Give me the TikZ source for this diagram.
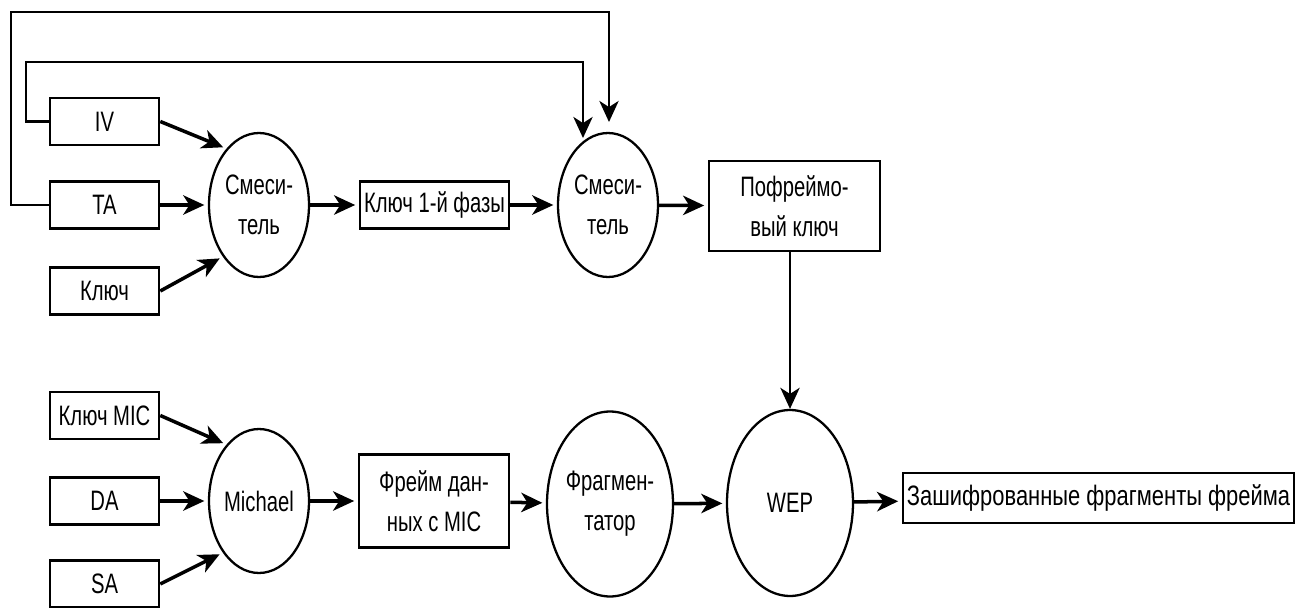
\documentclass[tikz,border=0pt]{standalone}
\usepackage{fontspec}
\setmainfont{Liberation Sans}[FakeStretch=0.72]
\newfontfamily\outfont{Liberation Sans}[FakeStretch=0.78]
\usetikzlibrary{arrows.meta,shapes.geometric}
\begin{document}
\begin{tikzpicture}[x=0.02cm, y=-0.02cm,
  >={Stealth[length=12pt, width=11pt, inset=3.5pt]},
  font=\fontsize{16}{22.7}\selectfont,
  blk/.style={draw, line width=1.5pt, inner sep=0pt, minimum width=2.18cm, minimum height=0.94cm, align=center},
  mix/.style={draw, ellipse, line width=1.3pt, inner sep=0pt, minimum width=2cm, minimum height=2.88cm, align=center},
  arr/.style={->, line width=2pt, shorten >=2pt},
  feed/.style={->, line width=1.2pt}]
  \useasboundingbox (0,0) rectangle (1302,608);
  % Inputs of the first mixer
  \node[blk] (iv)  at (104.5,121.5) {IV};
  \node[blk] (ta)  at (104.5,205) {TA};
  \node[blk] (key) at (104.5,291) {Ключ};
  % Phase 1 and phase 2
  \node[mix] (mix1) at (259,205) {Смеси-\\тель};
  \node[blk, minimum width=2.98cm] (key1) at (434.5,205) {Ключ 1-й фазы};
  \node[mix] (mix2) at (608,205) {Смеси-\\тель};
  \node[blk, minimum width=3.42cm, minimum height=1.8cm] (pof) at (794.5,206) {Пофреймо-\\вый ключ};
  % Inputs of Michael
  \node[blk] (mic) at (104.5,415.5) {Ключ MIC};
  \node[blk] (da)  at (104.5,501) {DA};
  \node[blk] (sa)  at (104.5,584) {SA};
  % Lower row
  \node[mix] (mich) at (259,501) {Michael};
  \node[blk, minimum width=3cm, minimum height=1.86cm] (frame) at (434,501) {Фрейм дан-\\ных с MIC};
  \node[mix, minimum width=2.52cm, minimum height=3.7cm] (frag) at (610,504) {Фрагмен-\\татор};
  \node[mix, minimum width=2.52cm, minimum height=3.72cm] (wep) at (790,503) {WEP};
  \node[blk, minimum width=7.82cm, minimum height=1cm, font=\outfont\fontsize{16}{22.7}\selectfont] (out) at (1098.5,498) {Зашифрованные фрагменты фрейма};
  % Feedback lines
  \coordinate (otop) at (11,12);
  \coordinate (oend) at (609,122);
  \coordinate (itop) at (26,62);
  \coordinate (iend) at (583,138);
  \draw[feed] (ta.west) -| (otop) -| (oend);
  \draw[feed] (iv.west) -| (itop) -| (iend);
  % Upper arrows
  \draw[arr] (iv.east) -- (mix1.120);
  \draw[arr] (ta) -- (mix1);
  \draw[arr] (key.east) -- (mix1.-125);
  \draw[arr] (mix1) -- (key1);
  \draw[arr] (key1) -- (mix2);
  \draw[arr] (mix2) -- (pof);
  \draw[feed] (pof.south -| wep.north) -- (wep.north);
  % Lower arrows
  \draw[arr] (mic.east) -- (mich.120);
  \draw[arr] (da) -- (mich);
  \draw[arr] (sa.east) -- (mich.-125);
  \draw[arr] (mich) -- (frame);
  \draw[arr] (frame) -- (frag);
  \draw[arr] (frag) -- (wep);
  \draw[arr] (wep) -- (out);
\end{tikzpicture}
\end{document}
